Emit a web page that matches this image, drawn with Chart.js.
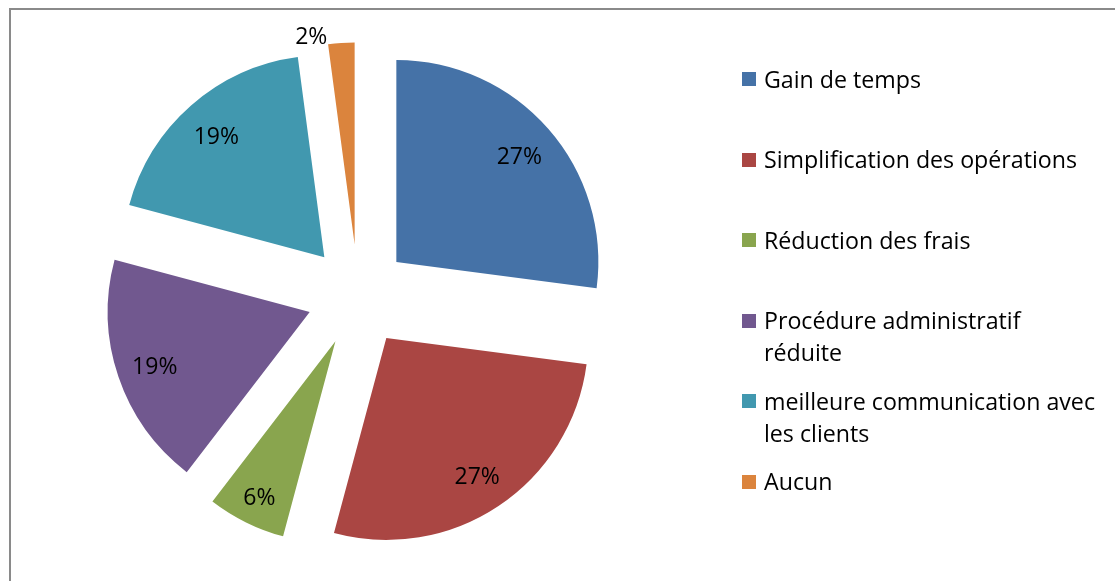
<!DOCTYPE html>
<html>
<head>
<meta charset="utf-8">
<script src="https://cdn.jsdelivr.net/npm/chart.js@4.4.0/dist/chart.umd.min.js"></script>
<style>
  html, body { margin: 0; padding: 0; background: #fff; overflow: hidden; }
  #wrap { position: relative; width: 1115px; height: 581px; }
  #frame { position: absolute; left: 9px; top: 8px; width: 1200px; height: 700px;
           border: 2px solid #8a8a8a; box-sizing: border-box; }
  #pie { position: absolute; left: 0; top: 0; }
  #legend { position: absolute; left: 742px; top: 72px; margin: 0; padding: 0; list-style: none;
            font-family: "Open Sans", sans-serif; font-size: 23.2px; color: #000; }
  #legend li { position: relative; height: 80.6px; padding-left: 22px; width: 336px;
               line-height: 32px; margin-top: 0; }
  #legend li span { position: absolute; left: 0; top: 0; width: 14px; height: 14px; }
  #legend li div { position: relative; top: -9.5px; }
</style>
</head>
<body>
<div id="wrap">
  <div id="frame"></div>
  <canvas id="pie" width="1115" height="581"></canvas>
  <ul id="legend"></ul>
</div>
<script>
const categories = [
  'Gain de temps',
  'Simplification des opérations',
  'Réduction des frais',
  'Procédure administratif réduite',
  'meilleure communication avec les clients',
  'Aucun'
];
// share of answers in %
const shares = [27.1, 27.1, 6.25, 18.75, 18.75, 2.1];
const colors = ['#4572A7', '#AA4643', '#89A54E', '#71588F', '#4198AF', '#DB843D'];

const EXPLODE = 51; // px each slice is pulled out
const FONT = '23px "Open Sans", sans-serif';

// Chart.js grows narrow slices when they are offset; keep every wedge at the same radius
const arcDraw = Chart.ArcElement.prototype.draw;
Chart.ArcElement.prototype.draw = function (ctx) {
  const c = this.circumference;
  this.circumference = Math.PI / 2;
  arcDraw.call(this, ctx);
  this.circumference = c;
};

const pctLabels = {
  id: 'pctLabels',
  afterDatasetsDraw(chart) {
    const ctx = chart.ctx;
    const data = chart.data.datasets[0].data;
    const total = data.reduce((a, b) => a + b, 0);
    ctx.save();
    ctx.font = FONT;
    ctx.fillStyle = '#000';
    ctx.textBaseline = 'middle';
    chart.getDatasetMeta(0).data.forEach((arc, i) => {
      const mid = (arc.startAngle + arc.endAngle) / 2;
      const pct = data[i] / total * 100;
      const txt = Math.round(pct) + '%';
      if (pct < 4) {
        // too thin: put it outside, to the left of the slice
        const r = EXPLODE + arc.outerRadius;
        ctx.textAlign = 'right';
        ctx.fillText(txt, arc.x + Math.cos(mid) * r - 14, arc.y + Math.sin(mid) * r - 6);
      } else {
        const r = EXPLODE + arc.outerRadius * (pct < 10 ? 0.85 : 0.81);
        ctx.textAlign = 'center';
        ctx.fillText(txt, arc.x + Math.cos(mid) * r, arc.y + Math.sin(mid) * r + 3);
      }
    });
    ctx.restore();
  }
};

const chart = new Chart(document.getElementById('pie'), {
  type: 'pie',
  data: {
    labels: categories,
    datasets: [{
      data: shares,
      backgroundColor: colors,
      borderWidth: 0,
      offset: EXPLODE * 4
    }]
  },
  options: {
    responsive: false,
    animation: false,
    devicePixelRatio: 1,
    radius: 202,
    layout: { padding: { left: 0, top: 10, right: 399, bottom: 0 } },
    plugins: {
      legend: { display: false },
      tooltip: { enabled: false }
    }
  },
  plugins: [pctLabels]
});

const legend = document.getElementById('legend');
categories.forEach((name, i) => {
  const li = document.createElement('li');
  const sw = document.createElement('span');
  sw.style.background = colors[i];
  const tx = document.createElement('div');
  tx.textContent = name;
  li.appendChild(sw);
  li.appendChild(tx);
  legend.appendChild(li);
});
</script>
</body>
</html>
